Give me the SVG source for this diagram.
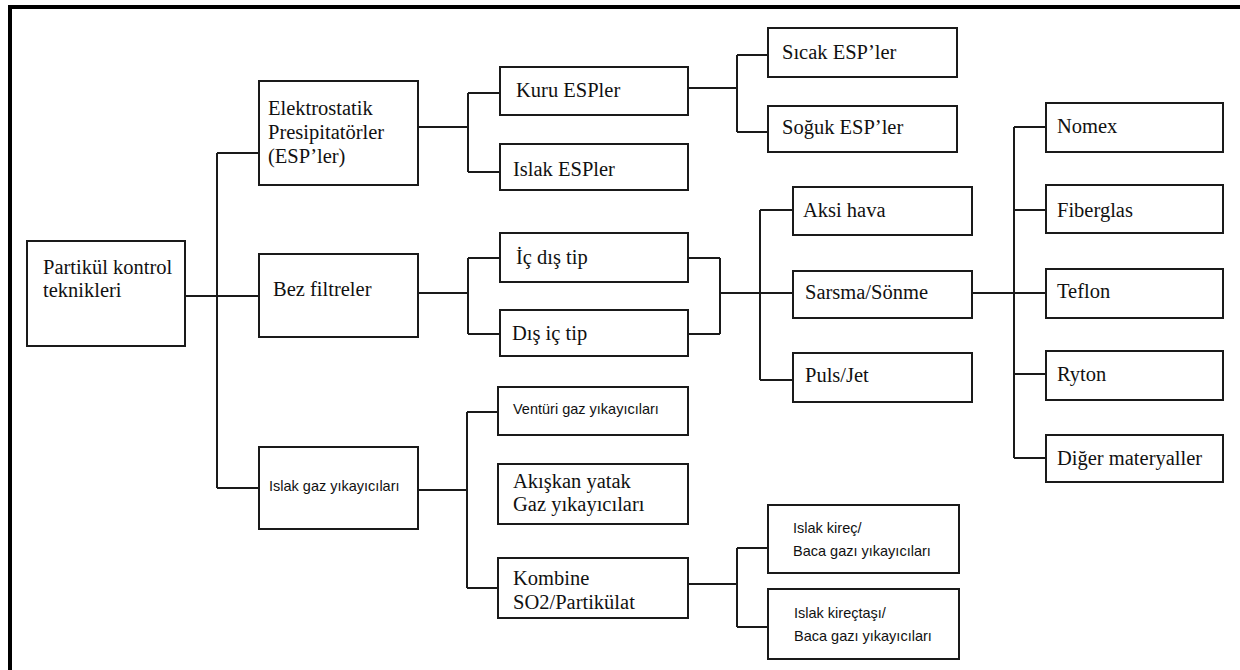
<svg xmlns="http://www.w3.org/2000/svg" width="1240" height="670" viewBox="0 0 1240 670">
<style>
.box{fill:#fff;stroke:#1a1a1a;stroke-width:2}
.ln{fill:none;stroke:#1a1a1a;stroke-width:2}
.s{font-family:"Liberation Serif","Times New Roman",serif;font-size:20.5px;fill:#111}
.a{font-family:"Liberation Sans",Arial,sans-serif;font-size:14.5px;fill:#111}
</style>
<rect x="0" y="0" width="1240" height="670" fill="#fff"/>
<path d="M10,670 V7 H1240" fill="none" stroke="#000" stroke-width="4"/>
<g id="connectors">
<path class="ln" d="M185,296 H259 M217,153 V488 M217,153 H259 M217,488 H259"/>
<path class="ln" d="M418,127 H468 M468,93 V172 M468,93 H500 M468,172 H500"/>
<path class="ln" d="M688,88 H737 M737,55 V132 M737,55 H768 M737,132 H768"/>
<path class="ln" d="M418,293 H468 M468,258 V334 M468,258 H500 M468,334 H500"/>
<path class="ln" d="M688,258 H720 M688,334 H720 M720,258 V334 M720,293 H793 M760,210 V380 M760,210 H793 M760,380 H793"/>
<path class="ln" d="M972,293 H1046 M1014,127 V458 M1014,127 H1046 M1014,210 H1046 M1014,374 H1046 M1014,458 H1046"/>
<path class="ln" d="M418,490 H467 M467,412 V588 M467,412 H498 M467,588 H498"/>
<path class="ln" d="M688,584 H737 M737,548 V627 M737,548 H768 M737,627 H768"/>
</g>
<g id="root"><rect class="box" x="27" y="241" width="158" height="105"/><text class="s" x="43" y="274">Partikül kontrol</text><text class="s" x="43" y="297">teknikleri</text></g>
<g id="esp"><rect class="box" x="259" y="81" width="159" height="104"/><text class="s" x="268" y="115">Elektrostatik</text><text class="s" x="268" y="139">Presipitatörler</text><text class="s" x="268" y="163">(ESP’ler)</text></g>
<g id="bez"><rect class="box" x="259" y="254" width="159" height="83"/><text class="s" x="273" y="296">Bez filtreler</text></g>
<g id="islakgaz"><rect class="box" x="259" y="447" width="159" height="82"/><text class="a" x="269" y="491">Islak gaz yıkayıcıları</text></g>
<g id="kuru"><rect class="box" x="500" y="67" width="188" height="48"/><text class="s" x="516" y="97">Kuru ESPler</text></g>
<g id="islakesp"><rect class="box" x="500" y="144" width="188" height="46"/><text class="s" x="513" y="176">Islak ESPler</text></g>
<g id="icdis"><rect class="box" x="500" y="233" width="188" height="49"/><text class="s" x="516" y="264">İç dış tip</text></g>
<g id="disic"><rect class="box" x="500" y="310" width="188" height="46"/><text class="s" x="512" y="340">Dış iç tip</text></g>
<g id="venturi"><rect class="box" x="498" y="387" width="190" height="48"/><text class="a" x="513" y="414">Ventüri gaz yıkayıcıları</text></g>
<g id="akiskan"><rect class="box" x="498" y="464" width="190" height="60"/><text class="s" x="513" y="488">Akışkan yatak</text><text class="s" x="513" y="511">Gaz yıkayıcıları</text></g>
<g id="kombine"><rect class="box" x="498" y="558" width="190" height="60"/><text class="s" x="513" y="585">Kombine</text><text class="s" x="513" y="609">SO2/Partikülat</text></g>
<g id="sicak"><rect class="box" x="768" y="28" width="189" height="49"/><text class="s" x="782" y="59">Sıcak ESP’ler</text></g>
<g id="soguk"><rect class="box" x="768" y="106" width="189" height="46"/><text class="s" x="782" y="134">Soğuk ESP’ler</text></g>
<g id="aksi"><rect class="box" x="793" y="187" width="179" height="48"/><text class="s" x="803" y="217">Aksi hava</text></g>
<g id="sarsma"><rect class="box" x="793" y="271" width="179" height="47"/><text class="s" x="805" y="299">Sarsma/Sönme</text></g>
<g id="puls"><rect class="box" x="793" y="353" width="179" height="49"/><text class="s" x="805" y="382">Puls/Jet</text></g>
<g id="kirec"><rect class="box" x="768" y="505" width="191" height="68"/><text class="a" x="793" y="533">Islak kireç/</text><text class="a" x="793" y="556">Baca gazı yıkayıcıları</text></g>
<g id="kirectasi"><rect class="box" x="768" y="589" width="191" height="70"/><text class="a" x="794" y="618">Islak kireçtaşı/</text><text class="a" x="794" y="641">Baca gazı yıkayıcıları</text></g>
<g id="nomex"><rect class="box" x="1046" y="103" width="177" height="49"/><text class="s" x="1057" y="133">Nomex</text></g>
<g id="fiberglas"><rect class="box" x="1046" y="185" width="177" height="48"/><text class="s" x="1057" y="217">Fiberglas</text></g>
<g id="teflon"><rect class="box" x="1046" y="269" width="177" height="49"/><text class="s" x="1057" y="298">Teflon</text></g>
<g id="ryton"><rect class="box" x="1046" y="351" width="177" height="49"/><text class="s" x="1057" y="381">Ryton</text></g>
<g id="diger"><rect class="box" x="1046" y="435" width="177" height="47"/><text class="s" x="1057" y="465">Diğer materyaller</text></g>
</svg>
